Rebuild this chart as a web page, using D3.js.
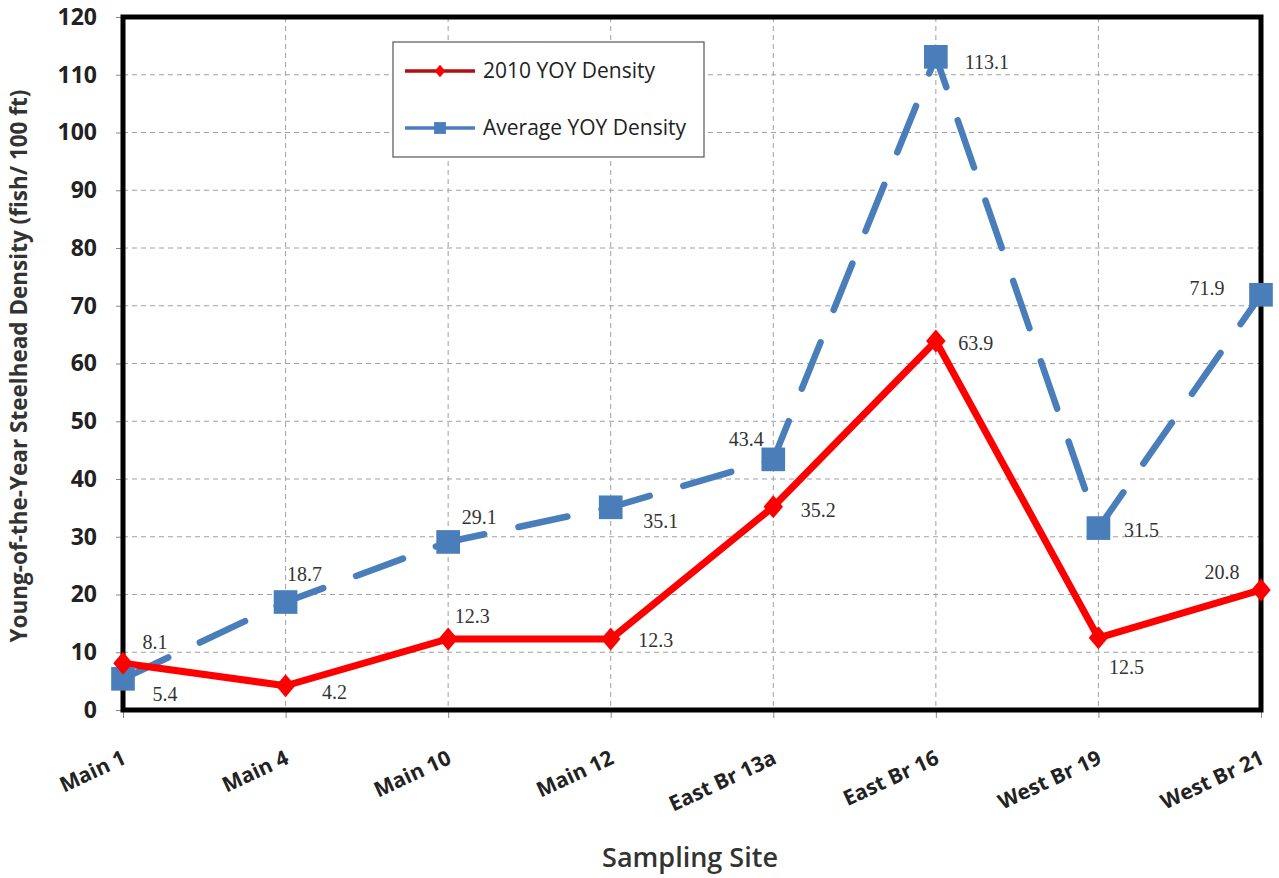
<!DOCTYPE html>
<html><head><meta charset="utf-8">
<script src="https://cdn.jsdelivr.net/npm/d3@7"></script>
<style>body{margin:0;background:#fff}svg{display:block}</style>
</head><body>
<svg id="c" width="1279" height="878"></svg>
<script>
const sites = ["Main 1","Main 4","Main 10","Main 12","East Br 13a","East Br 16","West Br 19","West Br 21"];
const density2010 = [8.1, 4.2, 12.3, 12.3, 35.2, 63.9, 12.5, 20.8];
const densityAvg = [5.4, 18.7, 29.1, 35.1, 43.4, 113.1, 31.5, 71.9];
const yTicks = [0,10,20,30,40,50,60,70,80,90,100,110,120];
const seriesNames = ["2010 YOY Density","Average YOY Density"];
// label offsets (dx, dy) from each point to the label centre, presentation only
const off2010 = [[32,-21],[49,6],[24,-23],[45,1],[45,3],[40,2],[28,29],[-39,-18]];
const offAvg = [[42,15],[19,-28],[31,-25],[50,14],[-27,-20],[51,5],[43,2],[-54,-7]];

const svg = d3.select("#c");
const L=123, R=1261, T=17, B=710;
const x = d3.scalePoint().domain(sites).range([L,R]).padding(0);
const y = d3.scaleLinear().domain([0,120]).range([B,T]);
const font = "'Open Sans', 'Liberation Sans', sans-serif";

// grid
const g = svg.append("g");
g.selectAll(".hg").data(yTicks.slice(1)).enter().append("line")
 .attr("x1",L).attr("x2",R).attr("y1",d=>y(d)).attr("y2",d=>y(d))
 .attr("stroke","#a0a0a0").attr("stroke-width",1).attr("stroke-dasharray","5,4");
g.selectAll(".vg").data(sites.slice(1,-1)).enter().append("line")
 .attr("x1",d=>x(d)).attr("x2",d=>x(d)).attr("y1",T).attr("y2",B)
 .attr("stroke","#a0a0a0").attr("stroke-width",1).attr("stroke-dasharray","5,4");

// axes
const yAxis = d3.axisLeft(y).tickValues(yTicks).tickSize(7).tickPadding(19);
const ya = svg.append("g").attr("transform",`translate(${L},0)`).call(yAxis);
ya.select(".domain").remove();
ya.selectAll("line").attr("stroke","#888");
ya.selectAll("text").attr("font-family",font).attr("font-weight","bold").attr("font-size","23px").attr("fill","#222");

const xAxis = d3.axisBottom(x).tickSize(8).tickPadding(10);
const xa = svg.append("g").attr("transform",`translate(0,${B})`).call(xAxis);
xa.select(".domain").remove();
xa.selectAll("line").attr("stroke","#888");
xa.selectAll("text").attr("font-family",font).attr("font-weight","bold").attr("font-size","21px").attr("fill","#222")
 .attr("text-anchor","end").attr("x",0).attr("y",0).attr("dy","0").attr("transform","translate(4,53) rotate(-25)");

// plot border
svg.append("rect").attr("x",L).attr("y",T).attr("width",R-L).attr("height",B-T)
 .attr("fill","none").attr("stroke","#000").attr("stroke-width",5);

// titles
svg.append("text").attr("transform",`translate(27,366) rotate(-90)`).attr("text-anchor","middle")
 .attr("font-family",font).attr("font-weight","bold").attr("font-size","22.5px").attr("fill","#333")
 .text("Young-of-the-Year Steelhead Density (fish/ 100 ft)");
svg.append("text").attr("x",690).attr("y",867).attr("text-anchor","middle")
 .attr("font-family",font).attr("font-weight","600").attr("font-size","27px").attr("fill","#333")
 .text("Sampling Site");

const line = d3.line().x((d,i)=>x(sites[i])).y(d=>y(d));
const blue="#4a7ebb", red="#ff0000";

// average series
svg.append("path").datum(densityAvg).attr("d",line).attr("fill","none")
 .attr("stroke",blue).attr("stroke-width",6.5).attr("stroke-dasharray","50,35").attr("stroke-linecap","round");
// 2010 series
svg.append("path").datum(density2010).attr("d",line).attr("fill","none")
 .attr("stroke",red).attr("stroke-width",7).attr("stroke-linejoin","round");

const sq = d3.symbol().type(d3.symbolSquare).size(560);
svg.selectAll(".sq").data(densityAvg).enter().append("path")
 .attr("d",sq).attr("transform",(d,i)=>`translate(${x(sites[i])},${y(d)})`).attr("fill",blue);
const diamondType = {draw(ctx, s){ const w=Math.sqrt(s)/2, h=w*1.18; ctx.moveTo(0,-h); ctx.lineTo(w,0); ctx.lineTo(0,h); ctx.lineTo(-w,0); ctx.closePath(); }};
const di = d3.symbol().type(diamondType).size(380);
svg.selectAll(".di").data(density2010).enter().append("path")
 .attr("d",di).attr("transform",(d,i)=>`translate(${x(sites[i])},${y(d)})`).attr("fill",red);

// data labels
const lf = "'Liberation Serif', serif";
svg.selectAll(".l1").data(density2010).enter().append("text")
 .attr("x",(d,i)=>x(sites[i])+off2010[i][0]).attr("y",(d,i)=>y(d)+off2010[i][1]).attr("dy","0.35em")
 .attr("text-anchor","middle").attr("font-family",lf).attr("font-size","20px").attr("fill","#333")
 .text(d=>d.toFixed(1));
svg.selectAll(".l2").data(densityAvg).enter().append("text")
 .attr("x",(d,i)=>x(sites[i])+offAvg[i][0]).attr("y",(d,i)=>y(d)+offAvg[i][1]).attr("dy","0.35em")
 .attr("text-anchor","middle").attr("font-family",lf).attr("font-size","20px").attr("fill","#333")
 .text(d=>d.toFixed(1));

// legend
const lg = svg.append("g");
lg.append("rect").attr("x",393).attr("y",42).attr("width",311).attr("height",115)
 .attr("fill","#fff").attr("stroke","#555").attr("stroke-width",1.2);
const ly = [71,128];
lg.append("line").attr("x1",405).attr("x2",475).attr("y1",ly[0]).attr("y2",ly[0]).attr("stroke","#b01010").attr("stroke-width",3.5);
lg.append("path").attr("d",d3.symbol().type(diamondType).size(110)).attr("transform",`translate(440,${ly[0]})`).attr("fill",red);
lg.append("line").attr("x1",405).attr("x2",475).attr("y1",ly[1]).attr("y2",ly[1]).attr("stroke",blue).attr("stroke-width",3.5);
lg.append("path").attr("d",d3.symbol().type(d3.symbolSquare).size(140)).attr("transform",`translate(440,${ly[1]})`).attr("fill",blue);
lg.selectAll(".lt").data(seriesNames).enter().append("text")
 .attr("x",483).attr("y",(d,i)=>ly[i]).attr("dy","0.35em").attr("font-family",font).attr("font-size","21px").attr("fill","#222")
 .text(d=>d);
</script>
</body></html>
